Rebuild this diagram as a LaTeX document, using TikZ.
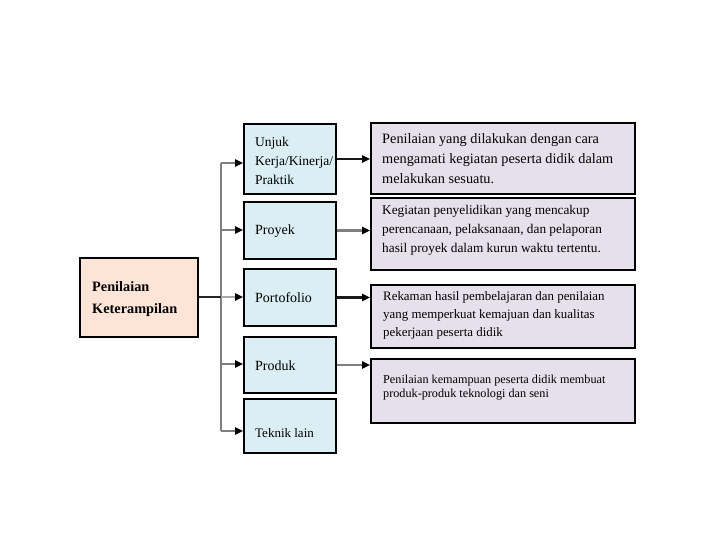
\documentclass[tikz,border=0pt]{standalone}
\usepackage{fontspec}
\setmainfont{Liberation Serif}
\usetikzlibrary{arrows.meta}
\definecolor{peach}{HTML}{FCE4D6}
\definecolor{lblue}{HTML}{DAEEF3}
\definecolor{lav}{HTML}{E5E0EC}
\definecolor{cgray}{HTML}{7F7F7F}
\definecolor{lgray}{HTML}{A6A6A6}
\tikzset{
  bx/.style={draw=black, line width=1.7pt, inner sep=0pt, anchor=center},
  leftbox/.style={bx, fill=peach, minimum width=118pt, minimum height=79pt},
  midbox/.style={bx, fill=lblue, minimum width=92pt},
  rightbox/.style={bx, fill=lav, minimum width=264pt},
  txt/.style={inner sep=0pt, align=left, anchor=north west},
  conn/.style={line width=2.2pt, draw=cgray, -{Triangle[length=8pt,width=7pt,color=black]}},
  connb/.style={conn, draw=black!90},
  seg/.style={line width=2.4pt, draw=cgray},
}
\begin{document}
\begin{tikzpicture}[x=1pt,y=-1pt]
\useasboundingbox (0,0) rectangle (720,540);
% boxes
\node[leftbox] (pk) at (139,297.5) {};
\node[midbox, minimum height=70pt] (m1) at (290,159) {};
\node[midbox, minimum height=57pt] (m2) at (290,230.5) {};
\node[midbox, minimum height=57pt] (m3) at (290,297.5) {};
\node[midbox, minimum height=56pt] (m4) at (290,365) {};
\node[midbox, minimum height=54pt] (m5) at (290,426) {};
\node[rightbox, minimum height=71pt] (r1) at (503,158.5) {};
\node[rightbox, minimum height=72pt] (r2) at (503,234) {};
\node[rightbox, minimum height=63pt] (r3) at (503,316.5) {};
\node[rightbox, minimum height=64pt] (r4) at (503,391) {};
% texts
\node[txt, font=\fontsize{14.3}{22}\selectfont\bfseries] (tpk) at (92,281) {Penilaian\\Keterampilan};
\node[txt, font=\fontsize{13.5}{19}\selectfont] (tm1) at (255,137) {Unjuk\\Kerja/Kinerja/\\Praktik};
\node[txt, anchor=base west, font=\fontsize{14}{18}\selectfont] (tm2) at (255,234) {Proyek};
\node[txt, anchor=base west, font=\fontsize{14}{18}\selectfont] (tm3) at (255,302) {Portofolio};
\node[txt, anchor=base west, font=\fontsize{14}{18}\selectfont] (tm4) at (255,370) {Produk};
\node[txt, anchor=base west, font=\fontsize{13}{18}\selectfont] (tm5) at (255,437) {Teknik lain};
\node[txt, font=\fontsize{14.3}{20}\selectfont] (tr1) at (382,133) {Penilaian yang dilakukan dengan cara\\mengamati kegiatan peserta didik dalam\\melakukan sesuatu.};
\node[txt, font=\fontsize{13.3}{19}\selectfont] (tr2) at (382,204.8) {Kegiatan penyelidikan yang mencakup\\perencanaan, pelaksanaan, dan pelaporan\\hasil proyek dalam kurun waktu tertentu.};
\node[txt, font=\fontsize{12.9}{18}\selectfont] (tr3) at (383,291) {Rekaman hasil pembelajaran dan penilaian\\yang memperkuat kemajuan dan kualitas\\pekerjaan peserta didik};
\node[txt, font=\fontsize{12.2}{14.5}\selectfont] (tr4) at (383,374.6) {Penilaian kemampuan peserta didik membuat\\produk-produk teknologi dan seni};
% connectors
\coordinate (s1) at (221,163);
\coordinate (s2) at (221,230);
\coordinate (s3) at (221,297);
\coordinate (s4) at (221,364);
\coordinate (s5) at (221,431);
\draw[seg] (s1) -- (s5);
\draw[line width=1.6pt, draw=black!85] (pk.east |- s3) -- (s3);
\draw[conn, draw=lgray] (s3) -- (s3 -| m3.west);
\draw[conn] (s1) -- (s1 -| m1.west);
\draw[conn] (s2) -- (s2 -| m2.west);
\draw[conn] (s4) -- (s4 -| m4.west);
\draw[conn] (s5) -- (s5 -| m5.west);
\draw[connb] (m1.east) -- (m1.east -| r1.west);
\draw[conn] (m2.east) -- (m2.east -| r2.west);
\draw[connb] (m3.east) -- (m3.east -| r3.west);
\draw[conn] (m4.east) -- (m4.east -| r4.west);
\end{tikzpicture}
\end{document}
